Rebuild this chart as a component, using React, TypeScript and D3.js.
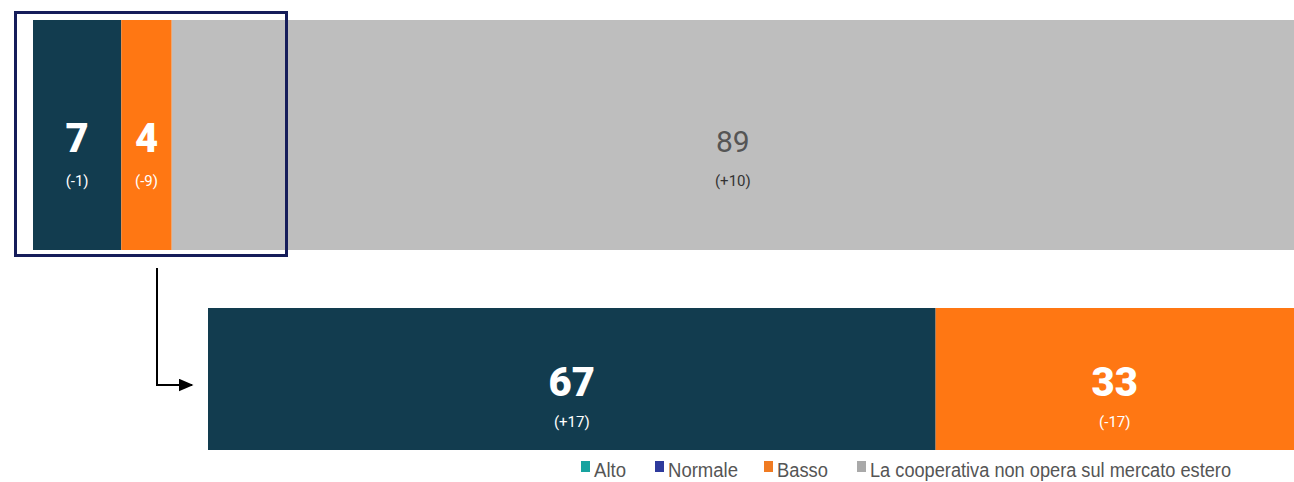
import React from "react"
import * as d3 from "d3"

// ---------- Data ----------
const topCategories = ["Basso_dark", "Basso", "Non opera"]
const topValues = [7, 4, 89]
const topDeltas = ["(-1)", "(-9)", "(+10)"]

const bottomValues = [67, 33]
const bottomDeltas = ["(+17)", "(-17)"]

const legendLabels = ["Alto", "Normale", "Basso", "La cooperativa non opera sul mercato estero"]

// ---------- Styles ----------
const DARK = "#123c4f"
const ORANGE = "#ff7713"
const GREY = "#bebebe"
const topColors = [DARK, ORANGE, GREY]
const bottomColors = [DARK, ORANGE]
const legendColors = ["#17a39f", "#2e3a9c", "#f07b22", "#a9a9a9"]
const legendX = [581, 655, 764, 857]
const legendW = [32, 70, 51, 361]

const W = 1294
const H = 482

const bigFont = "Roboto, 'DejaVu Sans', sans-serif"

const App: React.FC = () => {
    const xTop = d3.scaleLinear().domain([0, 100]).range([33, 1294])
    const xBottom = d3.scaleLinear().domain([0, 100]).range([208, 1294])

    const stack = (vals: number[]) => {
        const out: { start: number; end: number; v: number }[] = []
        let acc = 0
        vals.forEach(v => {
            out.push({ start: acc, end: acc + v, v })
            acc += v
        })
        return out
    }

    const topSegs = stack(topValues)
    const botSegs = stack(bottomValues)

    const topY = 20, topH = 230
    const botY = 308, botH = 142

    return (
        <svg width={W} height={H} style={{ position: "absolute", left: 0, top: 0, background: "#fff" }}>
            <defs>
                <marker id="arrow" viewBox="0 0 10 10" refX="9" refY="5" markerUnits="userSpaceOnUse"
                    markerWidth="15" markerHeight="13" orient="auto" preserveAspectRatio="none">
                    <path d="M0,0 L10,5 L0,10 z" fill="#000" />
                </marker>
            </defs>

            {/* Top bar */}
            {topSegs.map((s, i) => {
                const x0 = xTop(s.start), x1 = xTop(s.end)
                const cx = (x0 + x1) / 2
                const isGrey = i === 2
                return (
                    <g key={topCategories[i]}>
                        <rect x={x0} y={topY} width={x1 - x0} height={topH} fill={topColors[i]} />
                        <text x={cx} y={152} textAnchor="middle"
                            fontFamily={isGrey ? "Roboto, sans-serif" : bigFont}
                            fontWeight={isGrey ? 400 : 900}
                            fontSize={isGrey ? 30 : 40}
                            fill={isGrey ? "#555" : "#fff"}>{s.v}</text>
                        <text x={cx} y={186} textAnchor="middle" fontFamily="Roboto, sans-serif"
                            fontSize={15} fill={isGrey ? "#333" : "#fff"}>{topDeltas[i]}</text>
                    </g>
                )
            })}

            {/* Zoom box */}
            <rect x={15.5} y={12.5} width={271} height={243} fill="none" stroke="#161d5a" strokeWidth={3} />

            {/* Arrow */}
            <path d="M157,268 L157,385 L192,385" fill="none" stroke="#000" strokeWidth={2} markerEnd="url(#arrow)" />

            {/* Bottom bar */}
            {botSegs.map((s, i) => {
                const x0 = xBottom(s.start), x1 = xBottom(s.end)
                const cx = (x0 + x1) / 2
                return (
                    <g key={"b" + i}>
                        <rect x={x0} y={botY} width={x1 - x0} height={botH} fill={bottomColors[i]} />
                        <text x={cx} y={396} textAnchor="middle" fontFamily={bigFont} fontWeight={900}
                            fontSize={40} fill="#fff">{s.v}</text>
                        <text x={cx} y={427} textAnchor="middle" fontFamily="Roboto, sans-serif"
                            fontSize={15} fill="#fff">{bottomDeltas[i]}</text>
                    </g>
                )
            })}

            {/* Legend */}
            {legendLabels.map((l, i) => (
                <g key={l} transform={`translate(${legendX[i]},470)`}>
                    <rect x={0} y={-9} width={9} height={11} fill={legendColors[i]} />
                    <text x={13} y={7} fontFamily="'Liberation Sans', Arial, sans-serif"
                        fontSize={20} fill="#555" textLength={legendW[i]} lengthAdjust="spacingAndGlyphs">{l}</text>
                </g>
            ))}
        </svg>
    )
}

export default App
